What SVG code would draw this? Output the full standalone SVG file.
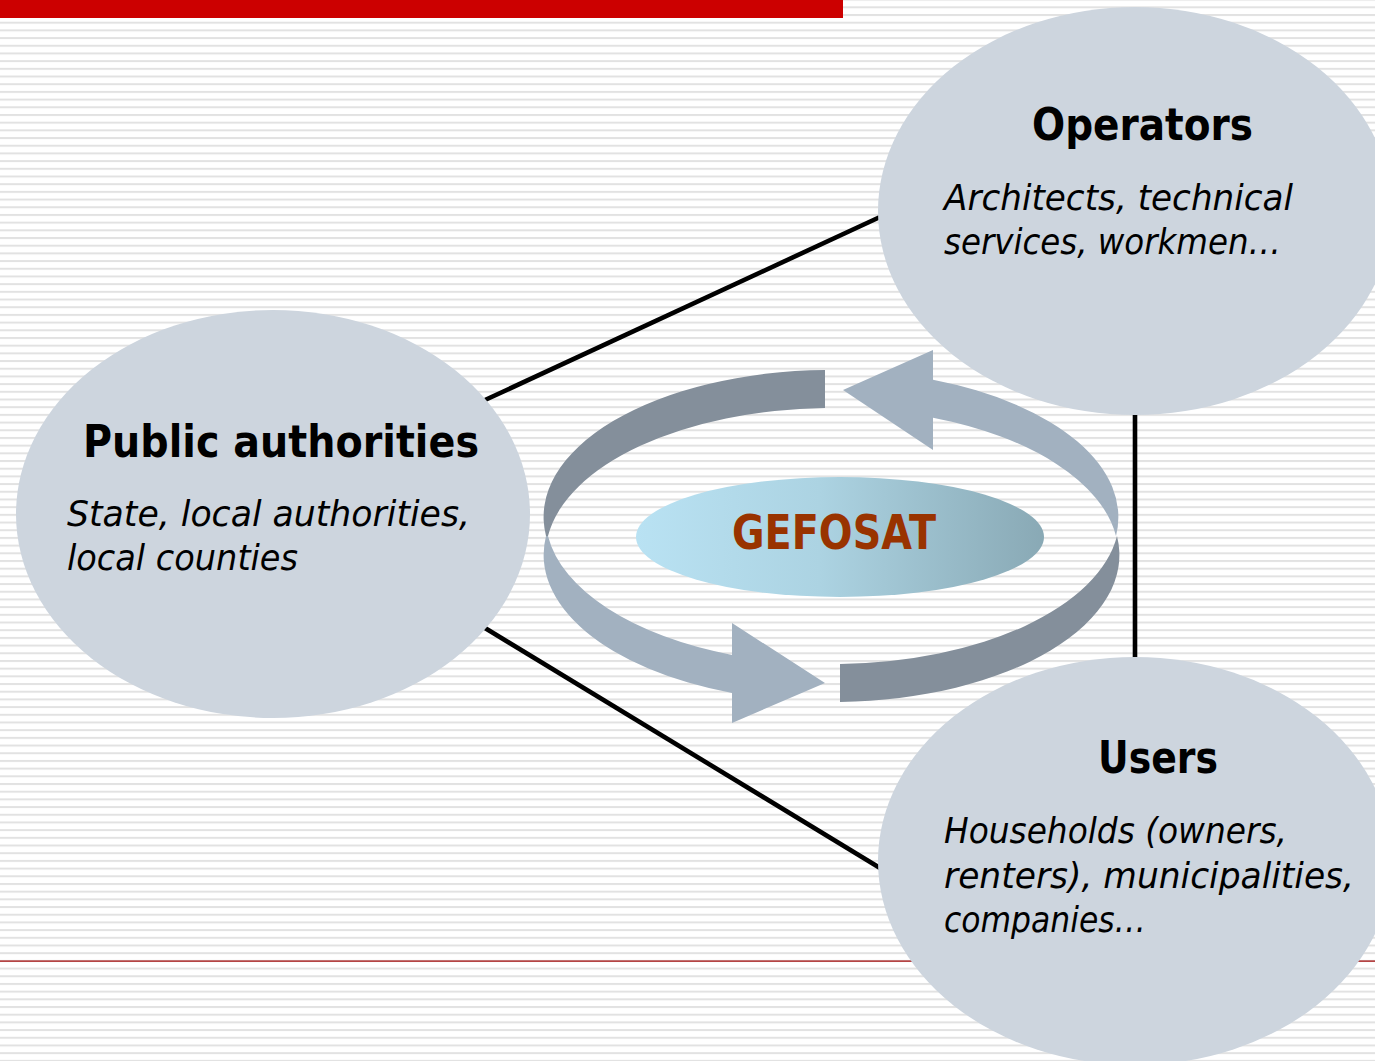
<svg xmlns="http://www.w3.org/2000/svg" width="1375" height="1061" viewBox="0 0 1375 1061">
  <defs>
    <pattern id="stripes" patternUnits="userSpaceOnUse" x="0" y="21.7" width="40" height="7.69">
      <rect x="0" y="0" width="40" height="2" fill="#e2e2e2"/>
    </pattern>
    <linearGradient id="gef" x1="0" y1="0" x2="1" y2="0">
      <stop offset="0" stop-color="#b9e2f3"/>
      <stop offset="0.45" stop-color="#acd3e2"/>
      <stop offset="1" stop-color="#89a9b5"/>
    </linearGradient>
    <style>
      .node { fill: #cdd5de; }
      .conn { stroke: #000000; stroke-width: 4.6; fill: none; }
      .title { font-family: "DejaVu Sans", "Liberation Sans", sans-serif; font-weight: bold; font-size: 44px; fill: #000000; }
      .desc { font-family: "DejaVu Sans", "Liberation Sans", sans-serif; font-style: italic; font-size: 35px; fill: #000000; }
      .dark { fill: #848f9b; }
      .light { fill: #a2b1c0; }
      .gef { font-family: "DejaVu Sans", "Liberation Sans", sans-serif; font-weight: bold; font-size: 48px; fill: #993300; }
    </style>
  </defs>

  <!-- background -->
  <rect x="0" y="0" width="1375" height="1061" fill="#ffffff"/>
  <rect x="0" y="0" width="1375" height="1061" fill="url(#stripes)"/>
  <rect x="0" y="0" width="843" height="18" fill="#cc0000"/>
  <rect x="0" y="960.5" width="1375" height="1.2" fill="#a00000"/>

  <!-- connectors -->
  <g id="connectors">
    <line class="conn" x1="485" y1="400" x2="880" y2="217"/>
    <line class="conn" x1="1135" y1="414" x2="1135" y2="659"/>
    <line class="conn" x1="485" y1="628" x2="880" y2="868"/>
  </g>

  <!-- cycle ring -->
  <g id="cycle">
    <path class="dark" d="M 546 536 A 287 147 0 0 1 825 370 L 825 408 A 287 147 0 0 0 548 536 Z"/>
    <path class="light" d="M 933 379.7 L 933 350 L 843 390 L 933 450 L 933 417.7 A 287 147 0 0 1 1116 536 A 287 147 0 0 0 933 379.7 Z"/>
    <path class="light" d="M 546 536 A 287 147 0 0 0 732 692.9 L 732 723 L 825 683 L 732 623 L 732 654.9 A 287 147 0 0 1 548 536 Z"/>
    <path class="dark" d="M 840 701.9 A 287 147 0 0 0 1117 536 A 287 147 0 0 1 840 663.9 Z"/>
  </g>

  <g id="gefosat">
    <ellipse cx="840" cy="537" rx="204" ry="60" fill="url(#gef)"/>
    <text class="gef" x="732" y="549" textLength="204" lengthAdjust="spacingAndGlyphs">GEFOSAT</text>
  </g>

  <g id="public-authorities">
    <ellipse class="node" cx="273" cy="514" rx="257" ry="204"/>
    <text class="title" x="83" y="457" textLength="396" lengthAdjust="spacingAndGlyphs">Public authorities</text>
    <text class="desc" x="67" y="526" textLength="403" lengthAdjust="spacingAndGlyphs">State, local authorities,</text>
    <text class="desc" x="67" y="570" textLength="231" lengthAdjust="spacingAndGlyphs">local counties</text>
  </g>

  <g id="operators">
    <ellipse class="node" cx="1135" cy="211" rx="257" ry="204"/>
    <text class="title" x="1032" y="140" textLength="221" lengthAdjust="spacingAndGlyphs">Operators</text>
    <text class="desc" x="944" y="210" textLength="349" lengthAdjust="spacingAndGlyphs">Architects, technical</text>
    <text class="desc" x="944" y="254" textLength="337" lengthAdjust="spacingAndGlyphs">services, workmen…</text>
  </g>

  <g id="users">
    <ellipse class="node" cx="1135" cy="861" rx="257" ry="204"/>
    <text class="title" x="1098" y="773" textLength="120" lengthAdjust="spacingAndGlyphs">Users</text>
    <text class="desc" x="944" y="843" textLength="343" lengthAdjust="spacingAndGlyphs">Households (owners,</text>
    <text class="desc" x="944" y="888" textLength="410" lengthAdjust="spacingAndGlyphs">renters), municipalities,</text>
    <text class="desc" x="944" y="932" textLength="202" lengthAdjust="spacingAndGlyphs">companies…</text>
  </g>
</svg>
